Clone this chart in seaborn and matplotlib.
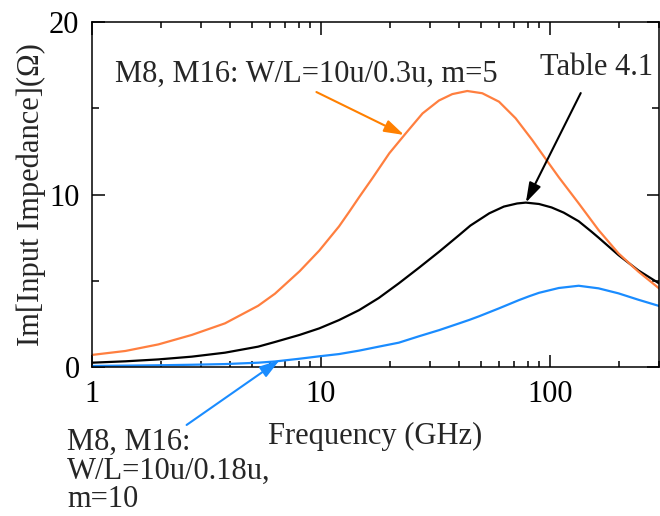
import numpy as np
import pandas as pd
import seaborn as sns
import matplotlib
matplotlib.use("Agg")
import matplotlib.pyplot as plt
from matplotlib.ticker import FixedLocator, FixedFormatter, NullFormatter

# Im[Zin] (ohm) versus frequency (GHz) for the three device sizings
freq_wl03_m5 = [1, 1.4, 1.95, 2.73, 3.81, 5.32, 6.3, 8.07, 9.84, 12.0, 13.3,
                14.7, 16.8, 19.9, 23.5, 27.8, 32.8, 37.5, 43.6, 50.7, 60, 70.9,
                83.8, 99, 109.5, 133.7, 163.3, 199.5, 243.7, 300]
im_z_wl03_m5 = [0.70, 0.93, 1.31, 1.86, 2.53, 3.55, 4.25, 5.55, 6.75, 8.15, 9.00,
                9.85, 10.95, 12.39, 13.55, 14.70, 15.45, 15.82, 16.00, 15.87,
                15.38, 14.42, 13.16, 11.81, 11.00, 9.49, 7.94, 6.59, 5.53, 4.56]

freq_table41 = [1, 1.4, 1.95, 2.73, 3.81, 5.32, 6.3, 8.07, 9.84, 12.0, 14.7,
                17.9, 21.9, 26.8, 32.9, 40.2, 45, 54.4, 63, 72, 78.6, 89.7,
                101.8, 115, 133.7, 152, 163.3, 199.5, 243.7, 300]
im_z_table41 = [0.25, 0.33, 0.44, 0.60, 0.83, 1.18, 1.45, 1.86, 2.24, 2.72, 3.30,
                4.00, 4.85, 5.75, 6.69, 7.65, 8.20, 8.91, 9.30, 9.48, 9.53, 9.45,
                9.25, 8.95, 8.45, 7.85, 7.50, 6.49, 5.60, 4.85]

freq_wl018_m10 = [1, 1.4, 1.95, 2.73, 3.81, 5.32, 6.3, 8.07, 9.84, 12.0, 14.7,
                  17.9, 21.9, 26.8, 32.9, 40.2, 44.5, 49.1, 60, 73.4, 81.2,
                  89.7, 109.5, 133.7, 163.3, 199.5, 243.7, 300]
im_z_wl018_m10 = [0.06, 0.08, 0.10, 0.13, 0.17, 0.25, 0.32, 0.48, 0.62, 0.75,
                  0.95, 1.18, 1.41, 1.78, 2.14, 2.53, 2.73, 2.94, 3.40, 3.88,
                  4.10, 4.30, 4.58, 4.71, 4.56, 4.27, 3.90, 3.54]

x_ticks = [1, 10, 100]
x_tick_labels = ["1", "10", "100"]
y_ticks = [0, 10, 20]
y_tick_labels = ["0", "10", "20"]

ORANGE = "#ff7f3f"
ARROW_ORANGE = "#ff8000"
BLUE = "#1a8cff"
BLACK = "#000000"

sns.set_style("ticks")
plt.rcParams["font.family"] = ["Liberation Serif", "DejaVu Serif"]

df = pd.concat([
    pd.DataFrame({"freq": freq_wl018_m10, "im": im_z_wl018_m10, "case": "wl018"}),
    pd.DataFrame({"freq": freq_table41, "im": im_z_table41, "case": "t41"}),
    pd.DataFrame({"freq": freq_wl03_m5, "im": im_z_wl03_m5, "case": "wl03"}),
], ignore_index=True)

fig = plt.figure(figsize=(6.6, 5.16), dpi=100)
ax = fig.add_axes([92 / 660, 1 - 367 / 516, (659 - 92) / 660, (367 - 22) / 516])

sns.lineplot(data=df, x="freq", y="im", hue="case",
             palette={"wl03": ORANGE, "t41": BLACK, "wl018": BLUE},
             hue_order=["wl018", "t41", "wl03"],
             lw=1.6, legend=False, ax=ax, estimator=None, sort=True)

ax.set_xscale("log")
ax.set_xlim(1, 300)
ax.set_ylim(0, 20)

ax.xaxis.set_major_locator(FixedLocator(x_ticks))
ax.xaxis.set_major_formatter(FixedFormatter(x_tick_labels))
ax.xaxis.set_minor_locator(FixedLocator(
    [m * d for d in (1, 10, 100) for m in range(2, 10) if m * d <= 300]))
ax.xaxis.set_minor_formatter(NullFormatter())
ax.yaxis.set_major_locator(FixedLocator(y_ticks))
ax.yaxis.set_major_formatter(FixedFormatter(y_tick_labels))
ax.yaxis.set_minor_locator(FixedLocator([5, 15]))

ax.tick_params(which="both", direction="in", top=True, right=True,
               width=1.1, labelsize=22, colors="black")
ax.tick_params(which="major", length=9, pad=9)
ax.tick_params(which="minor", length=4.5)
ax.tick_params(axis="y", which="minor", length=5)
for s in ax.spines.values():
    s.set_linewidth(1.1)
    s.set_color("black")

ax.set_xlabel("Frequency (GHz)", fontsize=22, labelpad=10)
ax.set_ylabel("Im[Input Impedance](\u03a9)", fontsize=22, labelpad=2)

arrow_kw = dict(arrowstyle="-|>,head_length=0.8,head_width=0.25",
                mutation_scale=15, lw=1.5, shrinkA=0, shrinkB=0)

# Orange case label and pointer
fig.text(115 / 660, 1 - 82 / 516, "M8, M16: W/L=10u/0.3u, m=5",
         fontsize=22, ha="left", va="baseline")
ax.annotate("", xy=(23.1, 13.45), xytext=(9.56, 15.94),
            arrowprops=dict(color=ARROW_ORANGE, **arrow_kw))

# Reference sizing label
fig.text(540 / 660, 1 - 75 / 516, "Table 4.1", fontsize=22,
         ha="left", va="baseline")
ax.annotate("", xy=(78.6, 9.53), xytext=(136.5, 15.88),
            arrowprops=dict(color=BLACK, **arrow_kw))

# Blue case label and pointer
fig.text(67 / 660, 1 - 507 / 516, "M8, M16:\nW/L=10u/0.18u,\nm=10",
         fontsize=22, ha="left", va="baseline", linespacing=0.98)
ax.annotate("", xy=(6.6, 0.4), xytext=(2.59, -3.36),
            arrowprops=dict(color=BLUE, **arrow_kw), annotation_clip=False)

fig.savefig("out.png", dpi=100)
